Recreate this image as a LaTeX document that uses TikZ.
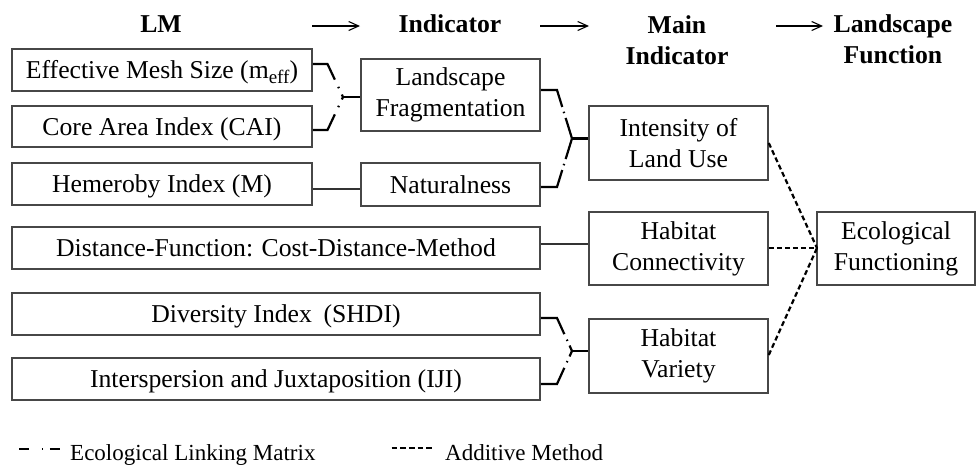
\documentclass[tikz,border=0pt]{standalone}
\usepackage{fontspec}
\setmainfont{Liberation Serif}
\usetikzlibrary{arrows.meta,calc}
\begin{document}
\begin{tikzpicture}[x=1pt,y=-1pt,
  box/.style={draw=black!72,line width=1.5pt,inner sep=0pt,align=center,
    font=\fontsize{25.7}{31}\selectfont},
  one/.style={text height=23.4pt,text depth=6.4pt},
  head/.style={align=center,font=\fontsize{25.7}{31}\selectfont\bfseries},
  hdarrow/.style={line width=1.1pt,-{Straight Barb[length=10pt,width=9pt]}},
  link/.style={line width=2.2pt},
  elmA/.style={link,dash pattern=on 32pt off 8pt on 1.5pt off 7pt on 40pt},
  elmB/.style={link,dash pattern=on 34pt off 5pt on 1.5pt off 5pt on 40pt},
  elmC/.style={link,dash pattern=on 34pt off 6pt on 1.5pt off 5pt on 40pt},
  addm/.style={line width=2.2pt,dash pattern=on 5pt off 3pt},
  legtext/.style={anchor=west,inner sep=0pt,text height=20.9pt,text depth=5.8pt,
    font=\fontsize{23}{27}\selectfont}
]
\useasboundingbox[fill=white] (0,0) rectangle (976,467);

% headers
\node[head] (hLM) at (161,24) {LM};
\node[head] (hInd) at (450,24) {Indicator};
\node[head] (hMain) at (677,40) {Main\\Indicator};
\node[head] (hLF) at (893,39) {Landscape\\Function};
\coordinate (a1s) at (312,26); \coordinate (a1e) at (360,26);
\coordinate (a2s) at (540,26); \coordinate (a2e) at (589,26);
\coordinate (a3s) at (776,26); \coordinate (a3e) at (823,26);
\draw[hdarrow] (a1s) -- (a1e);
\draw[hdarrow] (a2s) -- (a2e);
\draw[hdarrow] (a3s) -- (a3e);

% LM boxes
\node[box,one,minimum width=300pt,minimum height=42pt] (mesh) at (162,70) {Effective Mesh Size (m\raisebox{-5pt}{\fontsize{19}{19}\selectfont eff})};
\node[box,one,minimum width=300pt,minimum height=41pt] (core) at (162,126.5) {Core Area Index (CAI)};
\node[box,one,minimum width=300pt,minimum height=42pt] (hem) at (162,184) {Hemeroby Index (M)};
\node[box,one,minimum width=528pt,minimum height=42pt] (dist) at (276,248) {Distance-Function: Cost-Distance-Method};
\node[box,one,minimum width=528pt,minimum height=42pt] (div) at (276,314) {Diversity Index\hspace{0.45em}(SHDI)};
\node[box,one,minimum width=528pt,minimum height=42pt] (inter) at (276,379) {Interspersion and Juxtaposition (IJI)};

% Indicator boxes
\node[box,minimum width=179pt,minimum height=72pt] (frag) at (450.5,95) {Landscape\\Fragmentation};
\node[box,one,minimum width=179pt,minimum height=43pt] (nat) at (450.5,184.5) {Naturalness};

% Main indicator boxes
\node[box,minimum width=179pt,minimum height=74pt] (intens) at (678.5,143) {Intensity of\\Land Use};
\node[box,minimum width=179pt,minimum height=73pt] (conn) at (678.5,248.5) {Habitat\\Connectivity};
\node[box,minimum width=179pt,minimum height=74pt] (var) at (678.5,356) {Habitat\\Variety};

% Landscape function
\node[box,minimum width=158pt,minimum height=73pt] (eco) at (896,248.5) {Ecological\\Functioning};

% ecological linking matrix: mesh/core -> frag
\coordinate (c1a) at (327.5,64);
\coordinate (c1b) at (327.5,130);
\coordinate (j1) at (343,97);
\draw[elmA] (mesh.east |- c1a) -- (c1a) -- (j1);
\draw[elmA] (core.east |- c1b) -- (c1b) -- (j1);
\draw[link] (j1) -- (frag.west |- j1);

% frag/nat -> intens
\coordinate (c2a) at (557,90);
\coordinate (c2b) at (557,187);
\coordinate (j2) at (572,138.5);
\draw[elmB] (frag.east |- c2a) -- (c2a) -- (j2);
\draw[elmB] (nat.east |- c2b) -- (c2b) -- (j2);
\draw[link] (j2) -- (intens.west |- j2);

% div/inter -> var
\coordinate (c3a) at (557,318);
\coordinate (c3b) at (557,384);
\coordinate (j3) at (572,351);
\draw[elmC] (div.east |- c3a) -- (c3a) -- (j3);
\draw[elmC] (inter.east |- c3b) -- (c3b) -- (j3);
\draw[link] (j3) -- (var.west |- j3);

% plain links
\draw[line width=1.4pt,black!80] (hem.east |- 0,189) -- (nat.west |- 0,189);
\draw[line width=1.4pt,black!80] (dist.east |- 0,244) -- (conn.west |- 0,244);

% additive method
\coordinate (je) at (817,248);
\draw[addm] (intens.east |- 0,143) -- (je);
\draw[addm] (conn.east |- je) -- (je);
\draw[addm] (var.east |- 0,355) -- (je);

% legend
\coordinate (l1s) at (19,449); \coordinate (l1e) at (60,449);
\draw[line width=2.2pt,dash pattern=on 10.3pt off 12.5pt on 1.5pt off 6.5pt on 10pt] (l1s) -- (l1e);
\node[legtext] (leg1) at (70,453) {Ecological Linking Matrix};
\coordinate (l2s) at (391.7,447.5); \coordinate (l2e) at (431.7,447.5);
\draw[line width=2pt,dash pattern=on 5.6pt off 3pt] (l2s) -- (l2e);
\node[legtext] (leg2) at (445,453) {Additive Method};
\end{tikzpicture}
\end{document}
